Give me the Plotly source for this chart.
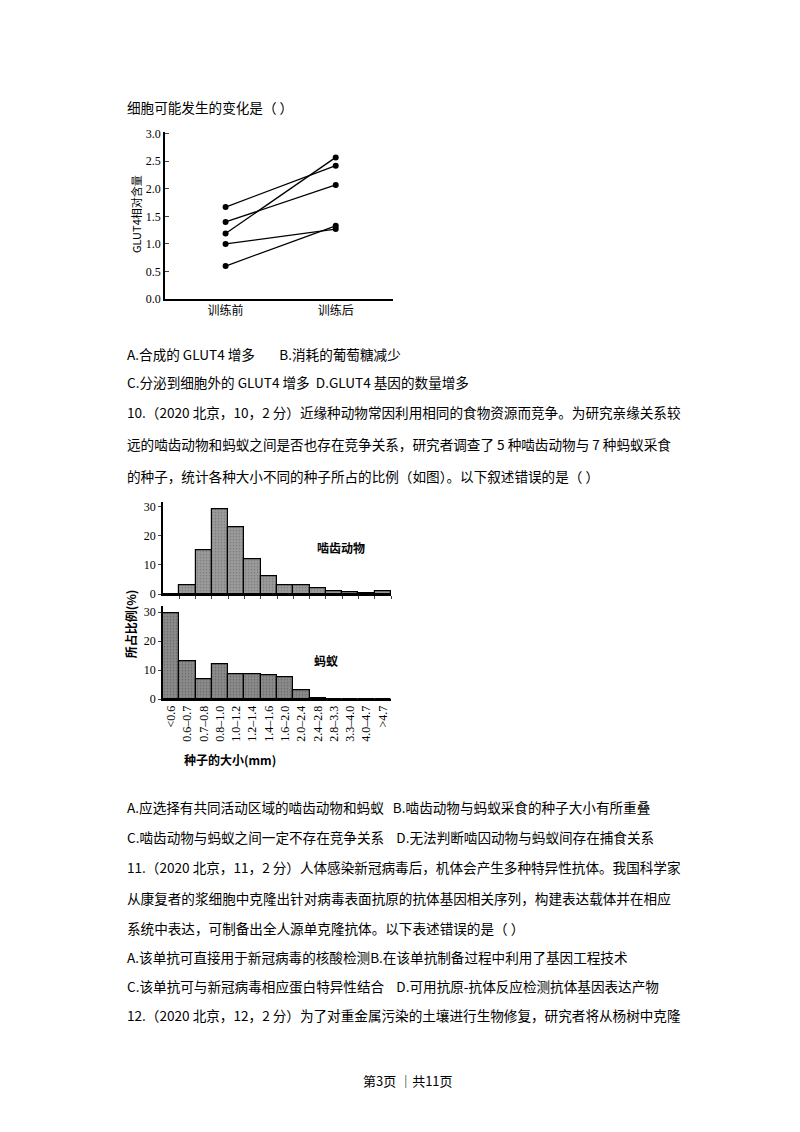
import plotly.graph_objects as go

W, H = 800, 1132
FONT = "Noto Sans CJK SC"

# Chart 1 data
stages = ["训练前", "训练后"]
glut_before = [1.67, 1.40, 1.19, 1.00, 0.60]
glut_after = [2.42, 2.07, 2.57, 1.27, 1.33]
glut_ticks = [0.0, 0.5, 1.0, 1.5, 2.0, 2.5, 3.0]

# Chart 2 data
size_bins = ["<0.6", "0.6–0.7", "0.7–0.8", "0.8–1.0", "1.0–1.2", "1.2–1.4", "1.4–1.6",
             "1.6–2.0", "2.0–2.4", "2.4–2.8", "2.8–3.3", "3.3–4.0", "4.0–4.7", ">4.7"]
rodent_pct = [0, 3, 15, 29, 23, 12, 6, 3, 3, 2, 1, 0.8, 0.5, 1]
ant_pct = [29.5, 13, 7, 12, 8.7, 8.5, 8.2, 7.5, 3, 0.3, 0.1, 0, 0, 0]

fig = go.Figure()

def px(x): return x / W
def py(y):
    y = (y - 14) / 0.989
    return 1 - y / H

for b, a in zip(glut_before, glut_after):
    fig.add_trace(go.Scatter(x=[0, 1], y=[b, a], mode="lines+markers",
                             line=dict(color="black", width=1.3),
                             marker=dict(color="black", size=6),
                             xaxis="x", yaxis="y", showlegend=False))

idx = list(range(len(size_bins)))
fig.add_trace(go.Bar(x=idx, y=rodent_pct, width=1, xaxis="x2", yaxis="y2",
                     marker=dict(color="#8c8c8c", line=dict(color="black", width=1.2),
                                 pattern=dict(shape=".", fgcolor="#555", bgcolor="#9a9a9a", size=3)),
                     showlegend=False))
fig.add_trace(go.Bar(x=idx, y=ant_pct, width=1, xaxis="x3", yaxis="y3",
                     marker=dict(color="#7a7a7a", line=dict(color="black", width=1.2),
                                 pattern=dict(shape=".", fgcolor="#444", bgcolor="#8a8a8a", size=3)),
                     showlegend=False))

axfont = dict(family="Liberation Serif", size=12, color="black")
fig.update_layout(
    width=W, height=H, margin=dict(l=0, r=0, t=0, b=0),
    paper_bgcolor="white", plot_bgcolor="white", bargap=0,
    xaxis=dict(domain=[px(157), px(385)], anchor="y", range=[-0.55, 1.52],
               tickvals=[0, 1], ticktext=stages, showgrid=False, zeroline=False,
               showline=True, linecolor="black", linewidth=1.5, ticks="",
               tickfont=dict(family=FONT, size=12, color="black")),
    yaxis=dict(domain=[py(300), py(133)], anchor="x", range=[0, 3.03],
               tickvals=glut_ticks, ticktext=[f"{v:.1f}" for v in glut_ticks],
               showgrid=False, zeroline=False, showline=True, linecolor="black",
               linewidth=1.5, ticks="inside", ticklen=4, tickfont=axfont),
    xaxis2=dict(domain=[px(155), px(383)], anchor="y2", range=[-0.5, 13.5],
                showticklabels=False, showgrid=False, zeroline=False, showline=True,
                linecolor="black", linewidth=1.5, ticks="outside", ticklen=3,
                tickvals=[i + 0.5 for i in idx]),
    yaxis2=dict(domain=[py(595), py(503)], anchor="x2", range=[0, 31.4],
                tickvals=[0, 10, 20, 30], showgrid=False, zeroline=False, showline=True,
                linecolor="black", linewidth=1.5, ticks="outside", ticklen=3,
                tickfont=dict(family="Liberation Serif", size=12, color="black")),
    xaxis3=dict(domain=[px(155), px(383)], anchor="y3", range=[-0.5, 13.5],
                tickvals=idx, ticktext=size_bins, tickangle=-90, showgrid=False,
                zeroline=False, showline=True, linecolor="black", linewidth=1.5, ticks="",
                tickfont=dict(family="Liberation Serif", size=12, color="black")),
    yaxis3=dict(domain=[py(700), py(607)], anchor="x3", range=[0, 32],
                tickvals=[0, 10, 20, 30], showgrid=False, zeroline=False, showline=True,
                linecolor="black", linewidth=1.5, ticks="outside", ticklen=3,
                tickfont=dict(family="Liberation Serif", size=12, color="black")),
)

def txt(x, y, s, size=14, xanchor="left", angle=0, bold=False):
    fig.add_annotation(x=px(x), y=py(y), xref="paper", yref="paper", text=(f"<b>{s}</b>" if bold else s),
                       showarrow=False, xanchor=xanchor, yanchor="middle", textangle=angle,
                       font=dict(family=FONT, size=size, color="black"))

lines = [
    (108, "细胞可能发生的变化是（ ）"),
    (355, "A.合成的 GLUT4 增多        B.消耗的葡萄糖减少"),
    (383, "C.分泌到细胞外的 GLUT4 增多  D.GLUT4 基因的数量增多"),
    (413, "10.（2020 北京，10，2 分）近缘种动物常因利用相同的食物资源而竞争。为研究亲缘关系较"),
    (445, "远的啮齿动物和蚂蚁之间是否也存在竞争关系，研究者调查了 5 种啮齿动物与 7 种蚂蚁采食"),
    (477, "的种子，统计各种大小不同的种子所占的比例（如图）。以下叙述错误的是（ ）"),
    (808, "A.应选择有共同活动区域的啮齿动物和蚂蚁   B.啮齿动物与蚂蚁采食的种子大小有所重叠"),
    (838, "C.啮齿动物与蚂蚁之间一定不存在竞争关系    D.无法判断啮囚动物与蚂蚁间存在捕食关系"),
    (868, "11.（2020 北京，11，2 分）人体感染新冠病毒后，机体会产生多种特异性抗体。我国科学家"),
    (899, "从康复者的浆细胞中克隆出针对病毒表面抗原的抗体基因相关序列，构建表达载体并在相应"),
    (929, "系统中表达，可制备出全人源单克隆抗体。以下表述错误的是（ ）"),
    (958, "A.该单抗可直接用于新冠病毒的核酸检测B.在该单抗制备过程中利用了基因工程技术"),
    (987, "C.该单抗可与新冠病毒相应蛋白特异性结合    D.可用抗原-抗体反应检测抗体基因表达产物"),
    (1016, "12.（2020 北京，12，2 分）为了对重金属污染的土壤进行生物修复，研究者将从杨树中克隆"),
]
for y, s in lines:
    txt(117, y, s, size=13.6)

txt(400, 1081, "第3页 ｜共11页", size=13, xanchor="center")
txt(128, 215, "GLUT4相对含量", size=11, xanchor="center", angle=-90)
txt(333, 548, "啮齿动物", size=12, xanchor="center", bold=True)
txt(318, 661, "蚂蚁", size=12, xanchor="center", bold=True)
txt(122, 625, "所占比例(%)", size=12, xanchor="center", angle=-90, bold=True)
txt(222, 760, "种子的大小(mm)", size=12, xanchor="center", bold=True)

fig.write_html("out.html")
